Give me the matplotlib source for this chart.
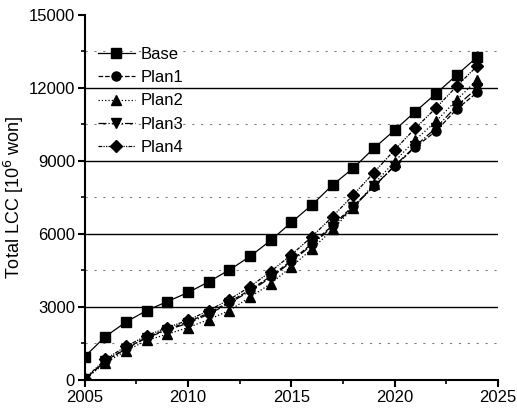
import matplotlib.pyplot as plt
from matplotlib.ticker import MultipleLocator

years = list(range(2005, 2025))

base = [960, 1780, 2380, 2850, 3220, 3590, 4030, 4520, 5070, 5730,
        6470, 7190, 8010, 8700, 9520, 10260, 11020, 11760, 12520, 13270]
plan1 = [30, 780, 1300, 1750, 2080, 2380, 2750, 3200, 3700, 4250,
         4900, 5600, 6350, 7150, 7950, 8780, 9560, 10220, 11120, 11810]
plan2 = [20, 700, 1200, 1620, 1880, 2150, 2480, 2850, 3400, 3950,
         4650, 5380, 6180, 7070, 8050, 8970, 9860, 10620, 11500, 12330]
plan3 = [30, 760, 1280, 1730, 2050, 2330, 2700, 3150, 3650, 4200,
         4850, 5550, 6300, 7100, 7950, 8800, 9600, 10350, 11250, 11990]
plan4 = [50, 850, 1380, 1820, 2150, 2450, 2850, 3300, 3830, 4450,
         5140, 5890, 6710, 7600, 8520, 9450, 10340, 11170, 12060, 12900]

series = [
    ("Base", base, "-", "s"),
    ("Plan1", plan1, "--", "o"),
    ("Plan2", plan2, ":", "^"),
    ("Plan3", plan3, "-.", "v"),
    ("Plan4", plan4, (0, (3, 1, 1, 1, 1, 1)), "D"),
]

plt.rcParams['font.family'] = ['Liberation Sans', 'DejaVu Sans']

fig = plt.figure(figsize=(5.17, 4.12), dpi=100)
ax = fig.add_axes([0.164, 0.078, 0.799, 0.886])

# major grid solid, minor grid sparse dots
for y in [3000, 6000, 9000, 12000]:
    ax.axhline(y, color="black", lw=1.0, zorder=1)
for y in [1500, 4500, 7500, 10500, 13500]:
    ax.axhline(y, color="gray", lw=0.8, ls=(0, (2, 6)), zorder=1)

for name, vals, ls, mk in series:
    ms = 6 if mk == "D" else 6.5
    ax.plot(years, vals, color="black", ls=ls, lw=0.9, marker=mk,
            markersize=ms, label=name, zorder=3)

ax.set_xlim(2005, 2025)
ax.set_ylim(0, 15000)
ax.xaxis.set_major_locator(MultipleLocator(5))
ax.xaxis.set_minor_locator(MultipleLocator(2.5))
ax.yaxis.set_major_locator(MultipleLocator(3000))
ax.yaxis.set_minor_locator(MultipleLocator(1500))
ax.tick_params(which="major", direction="out", length=5, width=1.5, labelsize=12, pad=2)
ax.tick_params(which="minor", direction="out", length=3, width=1.2)

for s in ["top", "right"]:
    ax.spines[s].set_visible(False)
for s in ["left", "bottom"]:
    ax.spines[s].set_linewidth(1.5)

ax.set_ylabel("Total LCC [10$^6$ won]", fontsize=13, labelpad=2)

ax.legend(loc="upper left", bbox_to_anchor=(0.008, 0.94), frameon=False,
          fontsize=12, handlelength=2.2, handletextpad=0.35, labelspacing=0.5,
          borderaxespad=0.2)

fig.savefig("out.png", dpi=100)
